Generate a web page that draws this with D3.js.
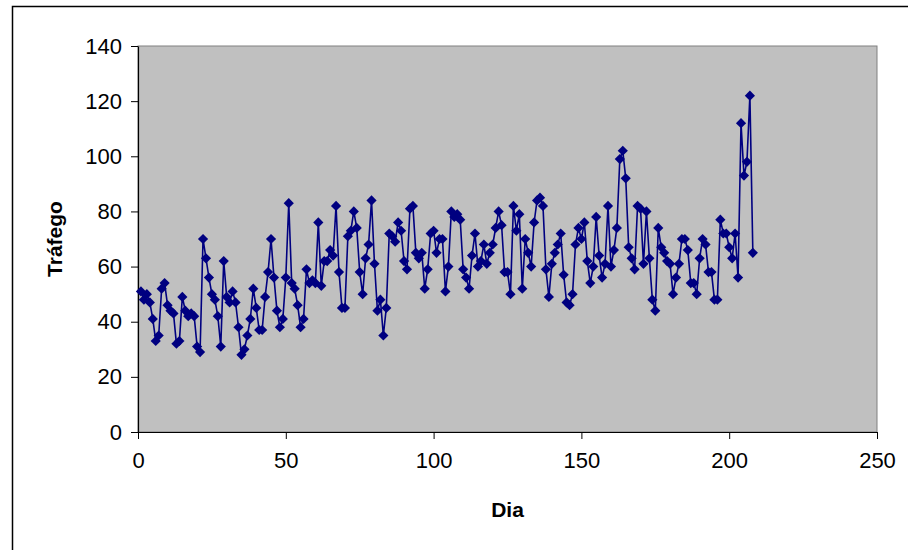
<!DOCTYPE html>
<html>
<head>
<meta charset="utf-8">
<script src="https://cdn.jsdelivr.net/npm/d3@7"></script>
<style>
  body { margin: 0; background: #fff; }
  svg { display: block; font-family: "Liberation Sans", Arial, sans-serif; }
</style>
</head>
<body>
<div id="chart"></div>
<script>
// daily traffic, day 1..208
const trafego = [
  51, 48, 50, 47, 41, 33, 35, 52, 54, 46,
  44, 43, 32, 33, 49, 44, 42, 43, 42, 31,
  29, 70, 63, 56, 50, 48, 42, 31, 62, 49,
  47, 51, 47, 38, 28, 30, 35, 41, 52, 45,
  37, 37, 49, 58, 70, 56, 44, 38, 41, 56,
  83, 54, 52, 46, 38, 41, 59, 54, 55, 54,
  76, 53, 62, 62, 66, 64, 82, 58, 45, 45,
  71, 73, 80, 74, 58, 50, 63, 68, 84, 61,
  44, 48, 35, 45, 72, 71, 69, 76, 73, 62,
  59, 81, 82, 65, 63, 65, 52, 59, 72, 73,
  65, 70, 70, 51, 60, 80, 78, 79, 77, 59,
  56, 52, 64, 72, 60, 62, 68, 61, 65, 68,
  74, 80, 75, 58, 58, 50, 82, 73, 79, 52,
  70, 65, 60, 76, 84, 85, 82, 59, 49, 61,
  65, 68, 72, 57, 47, 46, 50, 68, 74, 70,
  76, 62, 54, 60, 78, 64, 56, 61, 82, 60,
  66, 74, 99, 102, 92, 67, 63, 59, 82, 81,
  61, 80, 63, 48, 44, 74, 67, 65, 62, 61,
  50, 56, 61, 70, 70, 66, 54, 54, 50, 63,
  70, 68, 58, 58, 48, 48, 77, 72, 72, 67,
  63, 72, 56, 112, 93, 98, 122, 65
];
const dias = trafego.map((v, i) => i + 1);

const xTicks = [0, 50, 100, 150, 200, 250];
const yTicks = [0, 20, 40, 60, 80, 100, 120, 140];

const width = 908, height = 550;
const plot = {left: 138, top: 46, right: 877, bottom: 432};

const svg = d3.select("#chart").append("svg")
    .attr("width", width)
    .attr("height", height);

// outer chart frame (runs off the right/bottom edge)
svg.append("rect")
    .attr("x", 12.5).attr("y", 6.5)
    .attr("width", 920).attr("height", 570)
    .attr("fill", "#fff")
    .attr("stroke", "#000")
    .attr("stroke-width", 1.5);

const x = d3.scaleLinear().domain([0, 250]).range([plot.left, plot.right]);
const y = d3.scaleLinear().domain([0, 140]).range([plot.bottom, plot.top]);

// plot area
svg.append("rect")
    .attr("x", plot.left).attr("y", plot.top)
    .attr("width", plot.right - plot.left)
    .attr("height", plot.bottom - plot.top)
    .attr("fill", "#c0c0c0")
    .attr("stroke", "#808080")
    .attr("stroke-width", 1);

// axes
const xAxis = svg.append("g")
    .attr("transform", `translate(0,${plot.bottom})`)
    .call(d3.axisBottom(x).tickValues(xTicks).tickSize(7).tickPadding(13).tickSizeOuter(0));
const yAxis = svg.append("g")
    .attr("transform", `translate(${plot.left},0)`)
    .call(d3.axisLeft(y).tickValues(yTicks).tickSize(7).tickPadding(9).tickSizeOuter(0));

[xAxis, yAxis].forEach(a => {
  a.select(".domain").attr("stroke", "#000").attr("stroke-width", 1.2);
  a.selectAll(".tick line").attr("stroke", "#000");
  a.selectAll(".tick text")
      .attr("fill", "#000")
      .style("font-family", "Liberation Sans, Arial, sans-serif")
      .style("font-size", "22px");
});

// line + diamond markers
const line = d3.line()
    .x((d, i) => x(dias[i]))
    .y(d => y(d));

svg.append("path")
    .datum(trafego)
    .attr("d", line)
    .attr("fill", "none")
    .attr("stroke", "#000080")
    .attr("stroke-width", 1.6);

const diamond = d3.symbol().type(d3.symbolSquare).size(52);
svg.append("g").selectAll("path")
  .data(trafego)
  .join("path")
    .attr("d", diamond)
    .attr("transform", (d, i) => `translate(${x(dias[i])},${y(d)}) rotate(45)`)
    .attr("fill", "#000080");

// axis titles
svg.append("text")
    .attr("x", (plot.left + plot.right) / 2)
    .attr("y", 517)
    .attr("text-anchor", "middle")
    .attr("font-size", 21)
    .attr("font-weight", "bold")
    .text("Dia");

svg.append("text")
    .attr("transform", `translate(62,${(plot.top + plot.bottom) / 2}) rotate(-90)`)
    .attr("text-anchor", "middle")
    .attr("font-size", 21)
    .attr("font-weight", "bold")
    .text("Tráfego");
</script>
</body>
</html>
